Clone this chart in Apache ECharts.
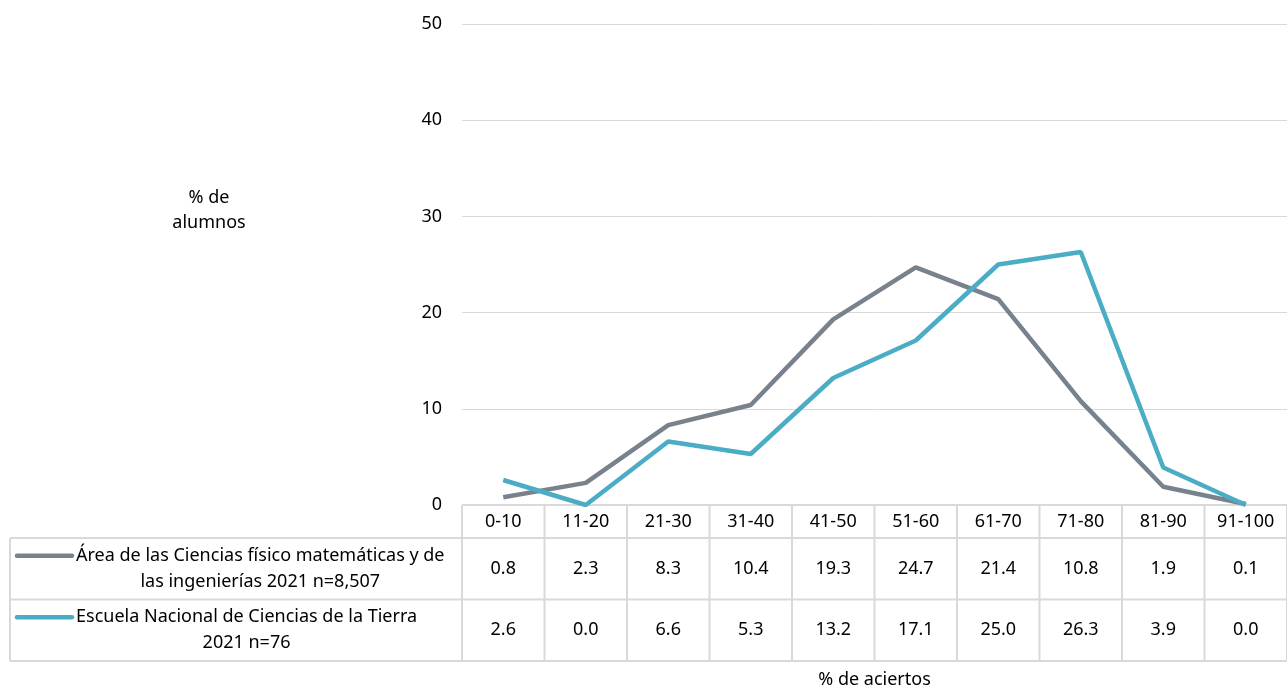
<!DOCTYPE html>
<html><head><meta charset="utf-8">
<script src="https://cdn.jsdelivr.net/npm/echarts@6/dist/echarts.min.js"></script>
<style>html,body{margin:0;padding:0;background:#fff}#c{width:1287px;height:688px}</style>
</head><body><div id="c"></div>
<script>
var categories = ['0-10','11-20','21-30','31-40','41-50','51-60','61-70','71-80','81-90','91-100'];
var seriesNames = ['Área de las Ciencias físico matemáticas y de\nlas ingenierías 2021 n=8,507', 'Escuela Nacional de Ciencias de la Tierra\n2021 n=76'];
var areaValues = [0.8, 2.3, 8.3, 10.4, 19.3, 24.7, 21.4, 10.8, 1.9, 0.1];
var entValues = [2.6, 0.0, 6.6, 5.3, 13.2, 17.1, 25.0, 26.3, 3.9, 0.0];
var yTicks = [0, 10, 20, 30, 40, 50];
var colors = ['#78828C', '#4BACC6'];
var FONT = 'Noto Sans';
var FS = 18;
var chart = echarts.init(document.getElementById('c'));
var G = {left: 462, right: 0, top: 24, bottom: 183};
chart.setOption({
  animation: false,
  textStyle: {fontFamily: FONT},
  grid: {left: G.left, right: G.right, top: G.top, bottom: G.bottom, containLabel: false},
  xAxis: {type: 'category', data: categories, boundaryGap: true,
    axisLine: {show: true, lineStyle: {color: '#D9D9D9', width: 1}}, axisTick: {show: false},
    axisLabel: {show: false}, splitLine: {show: false}},
  yAxis: {type: 'value', min: yTicks[0], max: yTicks[yTicks.length-1], interval: 10,
    axisLine: {show: false}, axisTick: {show: false},
    axisLabel: {color: '#000', fontSize: FS, fontFamily: FONT, margin: 20},
    splitLine: {lineStyle: {color: '#D9D9D9', width: 1}}},
  series: [
    {type: 'line', name: seriesNames[0], data: areaValues, symbol: 'none', lineStyle: {color: colors[0], width: 4.5}, z: 3},
    {type: 'line', name: seriesNames[1], data: entValues, symbol: 'none', lineStyle: {color: colors[1], width: 4.5}, z: 4}
  ]
});
var W = 1287;
var y0 = chart.convertToPixel({yAxisIndex: 0}, 0);
var headerH = 33, rowH = 61.5;
var tableLeft = 10, colLeft = G.left;
var bandW = (W - G.right - G.left) / categories.length;
var lineColor = '#D9D9D9';
var els = [];
var fontStr = FS + 'px "' + FONT + '"';
var mctx = document.createElement('canvas').getContext('2d');
mctx.font = fontStr;
function blockW(s){ return Math.max.apply(null, s.split('\n').map(function(l){ return mctx.measureText(l).width; })); }
function hline(x1, x2, y){ els.push({type:'line', shape:{x1:x1,y1:y,x2:x2,y2:y}, style:{stroke:lineColor, lineWidth:2}}); }
function vline(x, y1, y2){ els.push({type:'line', shape:{x1:x,y1:y1,x2:x,y2:y2}, style:{stroke:lineColor, lineWidth:2}}); }
function txt(x, y, s, lh){ els.push({type:'text', x:x, y:y, style:{text:s, fill:'#000', font:fontStr, align:'center', verticalAlign:'middle', lineHeight:lh||26}}); }
var yH = y0, yR1 = y0 + headerH, yR2 = yR1 + rowH, yEnd = yR2 + rowH;
hline(colLeft, W, yH);
hline(tableLeft, W, yR1);
hline(tableLeft, W, yR2);
hline(tableLeft, W, yEnd);
vline(tableLeft, yR1, yEnd);
vline(colLeft, yH, yEnd);
for (var i = 0; i < categories.length; i++) {
  var cx = chart.convertToPixel({xAxisIndex: 0}, categories[i]);
  vline(cx + bandW/2, yH, yEnd);
  txt(cx, (yH + yR1)/2, categories[i]);
  txt(cx, (yR1 + yR2)/2, areaValues[i].toFixed(1));
  txt(cx, (yR2 + yEnd)/2, entValues[i].toFixed(1));
}
var rows = [[yR1, yR2], [yR2, yEnd]];
for (var r = 0; r < 2; r++) {
  var my = (rows[r][0] + rows[r][1])/2;
  els.push({type:'line', shape:{x1:17, y1:my-13, x2:72, y2:my-13}, style:{stroke:colors[r], lineWidth:4.5, lineCap:'round'}});
  txt(76 + blockW(seriesNames[r])/2, my, seriesNames[r]);
}
txt(209, 210, '% de\nalumnos', 25);
txt((colLeft+W)/2, 680, '% de aciertos');
chart.setOption({graphic: {elements: els}});
</script></body></html>
